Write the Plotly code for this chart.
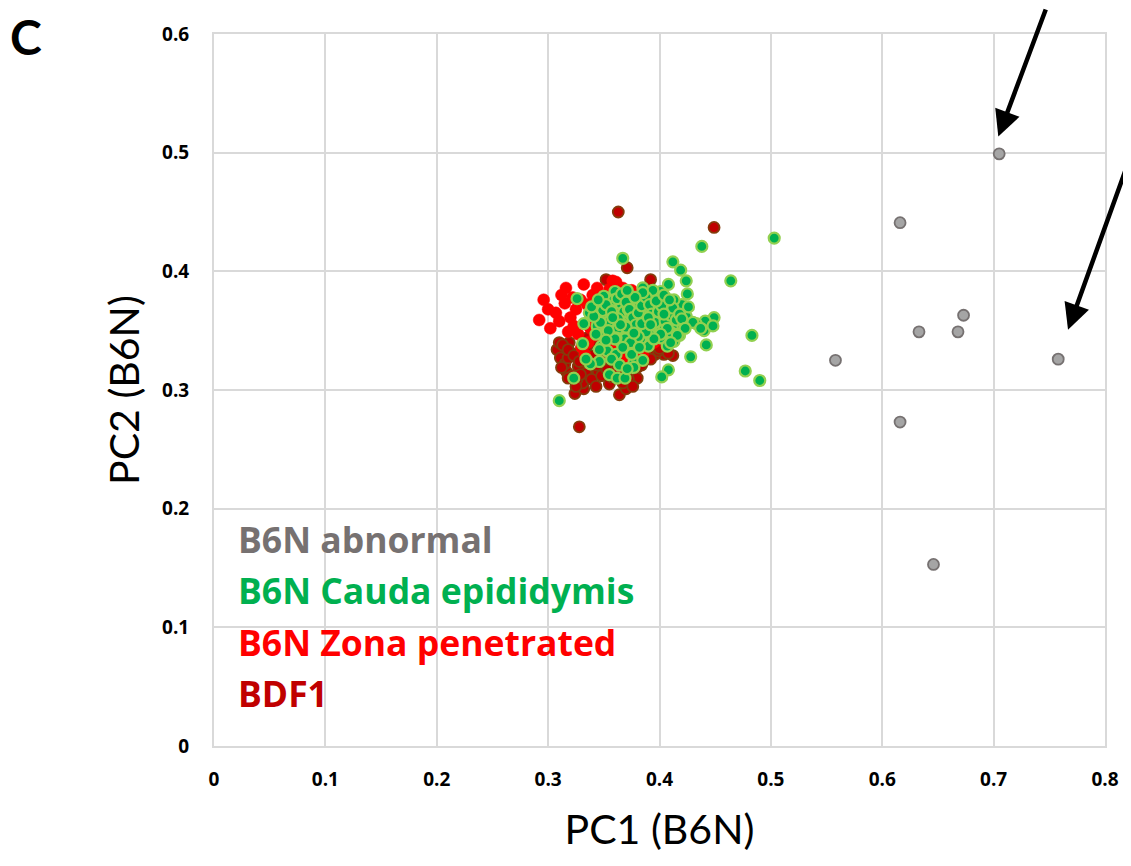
import plotly.graph_objects as go

# ---------------- data ----------------
abn_x = [0.705, 0.616, 0.558, 0.633, 0.668, 0.673, 0.758, 0.616, 0.646]
abn_y = [0.499, 0.441, 0.325, 0.349, 0.349, 0.363, 0.326, 0.273, 0.153]

bdf_x = [0.363, 0.449, 0.371, 0.352, 0.392, 0.328, 0.324, 0.364, 0.332, 0.370,
         0.380, 0.412, 0.404, 0.308, 0.311, 0.316, 0.319, 0.321, 0.327, 0.331,
         0.337, 0.340, 0.346, 0.352, 0.364, 0.370, 0.380, 0.389, 0.396, 0.335,
         0.342, 0.339, 0.358, 0.375, 0.315, 0.322, 0.330, 0.345, 0.355, 0.361,
         0.350, 0.310, 0.318, 0.326, 0.344, 0.367, 0.384, 0.399, 0.408,
         0.313, 0.318, 0.323, 0.328, 0.334, 0.339, 0.343, 0.348, 0.353, 0.357,
         0.362, 0.366, 0.372, 0.376, 0.384, 0.392, 0.400, 0.325, 0.318, 0.335,
         0.347, 0.357, 0.369, 0.312, 0.329]
bdf_y = [0.450, 0.437, 0.403, 0.393, 0.393, 0.269, 0.297, 0.296, 0.301, 0.301,
         0.310, 0.329, 0.330, 0.334, 0.327, 0.316, 0.340, 0.331, 0.320, 0.306,
         0.318, 0.321, 0.327, 0.325, 0.311, 0.315, 0.319, 0.329, 0.330, 0.344,
         0.341, 0.329, 0.319, 0.322, 0.322, 0.312, 0.335, 0.315, 0.305, 0.340,
         0.336, 0.340, 0.327, 0.309, 0.321, 0.306, 0.333, 0.333, 0.331,
         0.338, 0.334, 0.329, 0.324, 0.314, 0.309, 0.303, 0.312, 0.317, 0.311,
         0.318, 0.322, 0.309, 0.303, 0.321, 0.326, 0.335, 0.303, 0.310, 0.337,
         0.343, 0.331, 0.327, 0.319, 0.313]

zp_x = [0.296, 0.316, 0.332, 0.292, 0.302, 0.307, 0.315, 0.325, 0.320, 0.361,
        0.367, 0.329, 0.323, 0.327, 0.330, 0.336, 0.342, 0.346, 0.353, 0.365,
        0.380, 0.383, 0.389, 0.390, 0.356, 0.371, 0.333, 0.340, 0.355, 0.372,
        0.360, 0.345, 0.318, 0.338, 0.350, 0.376, 0.386,
        0.300, 0.312, 0.322, 0.335, 0.348, 0.358, 0.368, 0.375, 0.310, 0.338,
        0.349, 0.364, 0.378, 0.395, 0.385, 0.358, 0.344]
zp_y = [0.376, 0.386, 0.389, 0.359, 0.352, 0.365, 0.373, 0.368, 0.361, 0.391,
        0.386, 0.376, 0.354, 0.347, 0.336, 0.340, 0.346, 0.370, 0.364, 0.370,
        0.376, 0.340, 0.337, 0.343, 0.337, 0.328, 0.330, 0.380, 0.385, 0.380,
        0.350, 0.355, 0.349, 0.360, 0.345, 0.333, 0.347,
        0.368, 0.380, 0.378, 0.372, 0.377, 0.375, 0.362, 0.384, 0.358, 0.352,
        0.348, 0.343, 0.335, 0.340, 0.330, 0.392, 0.386]

cauda_x = [0.367, 0.438, 0.503, 0.412, 0.419, 0.424, 0.464, 0.425, 0.408, 0.385,
           0.420, 0.424, 0.426, 0.449, 0.441, 0.440, 0.448, 0.442, 0.433, 0.483,
           0.477, 0.490, 0.428, 0.408, 0.402, 0.310, 0.323, 0.355, 0.362, 0.369,
           0.346, 0.338, 0.334, 0.331, 0.332, 0.337, 0.326, 0.350, 0.360, 0.377,
           0.385, 0.377, 0.352, 0.348, 0.353, 0.361, 0.373, 0.390, 0.401, 0.413,
           0.407, 0.396, 0.398, 0.401, 0.401, 0.389, 0.374, 0.365, 0.356, 0.358,
           0.344, 0.371, 0.380, 0.386, 0.389, 0.392, 0.404, 0.410, 0.416, 0.414,
           0.407, 0.383, 0.365, 0.371, 0.362, 0.377, 0.395, 0.350, 0.359, 0.380,
           0.413, 0.368, 0.374, 0.383, 0.392, 0.397, 0.405, 0.411, 0.418, 0.363,
           0.355, 0.366, 0.378, 0.387, 0.395, 0.403, 0.409, 0.369, 0.375, 0.382,
           0.391, 0.399, 0.361, 0.349, 0.343, 0.368, 0.386, 0.394, 0.372, 0.378,
           0.416, 0.421, 0.430, 0.437,
           0.352, 0.357, 0.362, 0.366, 0.370, 0.373, 0.376, 0.379, 0.381, 0.384,
           0.388, 0.391, 0.393, 0.396, 0.399, 0.402, 0.405, 0.407, 0.410, 0.412,
           0.415, 0.418, 0.401, 0.395, 0.388, 0.381, 0.374, 0.367, 0.360, 0.354,
           0.347, 0.341, 0.339, 0.345, 0.363, 0.370, 0.377, 0.384, 0.390, 0.397,
           0.404, 0.409, 0.385, 0.378, 0.371, 0.365, 0.358, 0.352, 0.346, 0.357,
           0.364, 0.371, 0.392, 0.404, 0.420, 0.423, 0.416, 0.410, 0.375, 0.382]
cauda_y = [0.411, 0.421, 0.428, 0.408, 0.401, 0.392, 0.392, 0.381, 0.389, 0.386,
           0.372, 0.362, 0.370, 0.361, 0.358, 0.350, 0.354, 0.338, 0.356, 0.346,
           0.316, 0.308, 0.328, 0.317, 0.311, 0.291, 0.310, 0.313, 0.310, 0.310,
           0.324, 0.322, 0.326, 0.339, 0.356, 0.365, 0.377, 0.379, 0.383, 0.323,
           0.325, 0.319, 0.348, 0.337, 0.333, 0.330, 0.337, 0.337, 0.344, 0.341,
           0.337, 0.352, 0.362, 0.379, 0.383, 0.376, 0.379, 0.373, 0.371, 0.355,
           0.354, 0.357, 0.359, 0.366, 0.359, 0.351, 0.351, 0.357, 0.354, 0.364,
           0.368, 0.343, 0.341, 0.349, 0.362, 0.371, 0.371, 0.362, 0.376, 0.376,
           0.376, 0.366, 0.364, 0.352, 0.368, 0.358, 0.362, 0.348, 0.346, 0.352,
           0.358, 0.356, 0.347, 0.356, 0.345, 0.367, 0.370, 0.343, 0.353, 0.372,
           0.347, 0.373, 0.344, 0.367, 0.347, 0.380, 0.381, 0.384, 0.368, 0.360,
           0.347, 0.354, 0.357, 0.352,
           0.372, 0.366, 0.377, 0.381, 0.374, 0.368, 0.361, 0.355, 0.365, 0.371,
           0.378, 0.372, 0.364, 0.357, 0.366, 0.371, 0.358, 0.352, 0.363, 0.369,
           0.359, 0.364, 0.347, 0.343, 0.349, 0.345, 0.340, 0.336, 0.343, 0.350,
           0.357, 0.362, 0.370, 0.376, 0.360, 0.353, 0.348, 0.356, 0.361, 0.375,
           0.380, 0.376, 0.382, 0.378, 0.384, 0.355, 0.361, 0.342, 0.334, 0.326,
           0.321, 0.318, 0.355, 0.364, 0.360, 0.352, 0.346, 0.340, 0.330, 0.336]

legend_labels = ["B6N abnormal", "B6N Cauda epididymis", "B6N Zona penetrated", "BDF1"]
legend_colors = ["#767171", "#00B050", "#FF0000", "#C00000"]
legend_y = [0.1745, 0.1315, 0.0876, 0.0446]

tick_vals_x = [0, 0.1, 0.2, 0.3, 0.4, 0.5, 0.6, 0.7, 0.8]
tick_text_x = ["0", "0.1", "0.2", "0.3", "0.4", "0.5", "0.6", "0.7", "0.8"]
tick_vals_y = [0, 0.1, 0.2, 0.3, 0.4, 0.5, 0.6]
tick_text_y = ["0", "0.1", "0.2", "0.3", "0.4", "0.5", "0.6"]

arrow_heads = [(0.7042, 0.5136), (0.7668, 0.3507)]
arrow_offsets = [(48, -152), (78, -175)]

BOLD_FONT = "Open Sans"
TITLE_FONT = "Lato"

fig = go.Figure()
fig.add_trace(go.Scatter(x=bdf_x, y=bdf_y, mode="markers", name="BDF1",
                         marker=dict(size=11, color="#C00000",
                                     line=dict(color="#843C0C", width=1.8))))
fig.add_trace(go.Scatter(x=zp_x, y=zp_y, mode="markers", name="B6N Zona penetrated",
                         marker=dict(size=12, color="#FF0000",
                                     line=dict(color="#FF0000", width=0.5))))
fig.add_trace(go.Scatter(x=cauda_x, y=cauda_y, mode="markers", name="B6N Cauda epididymis",
                         marker=dict(size=11, color="#00B050",
                                     line=dict(color="#92D050", width=2.2))))
fig.add_trace(go.Scatter(x=abn_x, y=abn_y, mode="markers", name="B6N abnormal",
                         marker=dict(size=11, color="#A5A5A5",
                                     line=dict(color="#767171", width=1.8))))

annotations = []
for lab, col, yy in zip(legend_labels, legend_colors, legend_y):
    annotations.append(dict(x=0.020, y=yy, xref="x", yref="y", text="<b>" + lab + "</b>",
                            showarrow=False, xanchor="left", yanchor="middle",
                            font=dict(family=BOLD_FONT, size=35.5, color=col)))
for (hx, hy), (ax, ay) in zip(arrow_heads, arrow_offsets):
    annotations.append(dict(x=hx, y=hy, xref="x", yref="y", text="", showarrow=True,
                            ax=ax, ay=ay, arrowhead=2, arrowsize=1.15, arrowwidth=4.5,
                            arrowcolor="black", standoff=0))
annotations.append(dict(x=-0.231, y=0.996, xref="paper", yref="paper",
                        text="<b>C</b>", showarrow=False,
                        xanchor="left", yanchor="middle",
                        font=dict(family=TITLE_FONT, size=48, color="black")))

fig.update_layout(
    width=1123, height=858,
    margin=dict(l=206, r=22, t=26, b=120),
    paper_bgcolor="white", plot_bgcolor="white",
    showlegend=False,
    font=dict(family=BOLD_FONT, color="black"),
    annotations=annotations,
    xaxis=dict(range=[0, 0.8], tickvals=tick_vals_x, ticktext=tick_text_x,
               showgrid=True, gridcolor="#D9D9D9", gridwidth=2,
               zeroline=False, showline=True, mirror=True, linecolor="#D9D9D9", linewidth=2,
               ticks="", tickfont=dict(family=BOLD_FONT, size=19, color="black", weight="bold"),
               ticklabelstandoff=15,
               title=dict(text="PC1 (B6N)", font=dict(family=TITLE_FONT, size=41, color="black"),
                          standoff=25)),
    yaxis=dict(range=[0, 0.6], tickvals=tick_vals_y, ticktext=tick_text_y,
               showgrid=True, gridcolor="#D9D9D9", gridwidth=2,
               zeroline=False, showline=True, mirror=True, linecolor="#D9D9D9", linewidth=2,
               ticks="", tickfont=dict(family=BOLD_FONT, size=19, color="black", weight="bold"),
               ticklabelstandoff=19,
               title=dict(text="PC2 (B6N)", font=dict(family=TITLE_FONT, size=41, color="black"),
                          standoff=10)),
)

fig.write_html("out.html")
